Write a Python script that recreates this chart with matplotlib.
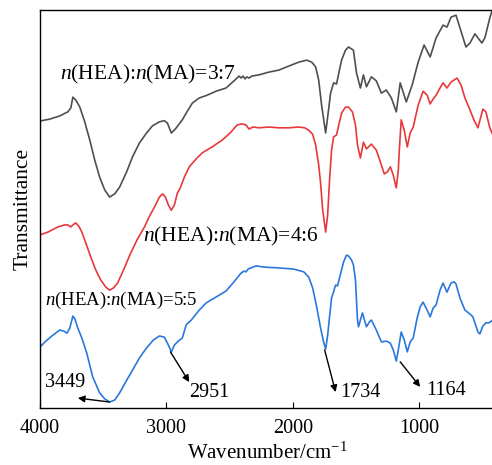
import numpy as np
import matplotlib
matplotlib.use("Agg")
import matplotlib.pyplot as plt

plt.rcParams['font.family'] = ['Liberation Serif', 'DejaVu Serif']
plt.rcParams['mathtext.fontset'] = 'custom'
plt.rcParams['mathtext.rm'] = 'Liberation Serif'
plt.rcParams['mathtext.it'] = 'Liberation Serif:italic'

# FTIR spectra, transmittance in arbitrary units (offset curves)
wn_37 = [4000, 3921, 3843, 3780, 3756, 3740, 3717, 3685, 3646, 3606, 3567, 3528, 3488, 3449,
         3409, 3370, 3315, 3268, 3213, 3157, 3110, 3055, 3016, 2992, 2961, 2929, 2898, 2874,
         2843, 2795, 2740, 2685, 2606, 2528, 2465, 2425, 2409, 2394, 2378, 2362, 2346, 2323,
         2268, 2189, 2110, 2032, 1953, 1890, 1850, 1819, 1795, 1772, 1740, 1717, 1701, 1677,
         1654, 1614, 1583, 1559, 1520, 1496, 1465, 1441, 1417, 1378, 1339, 1299, 1260, 1220,
         1181, 1150, 1102, 1055, 1008, 961, 913, 866, 811, 780, 748, 709, 677, 630, 598, 559,
         504, 480, 441, 417]
t_37 = [72.1, 72.6, 73.4, 74.4, 75.4, 78.1, 77.4, 75.6, 71.9, 67.3, 62.3, 58.0, 54.8, 53.0,
        53.8, 55.5, 59.3, 63.1, 66.6, 69.1, 70.9, 71.9, 72.2, 71.6, 69.1, 70.1, 71.4, 72.4,
        74.1, 76.6, 77.9, 78.5, 79.6, 80.4, 82.2, 83.4, 82.9, 83.4, 82.7, 83.2, 82.9, 83.4,
        83.7, 84.4, 84.9, 85.9, 86.9, 87.4, 86.9, 85.7, 82.4, 76.1, 69.1, 74.9, 79.1, 81.7,
        81.4, 87.4, 89.9, 90.7, 89.9, 84.2, 80.4, 83.7, 80.7, 83.2, 82.2, 79.1, 79.9, 77.9,
        74.4, 81.7, 76.9, 81.2, 86.9, 91.2, 88.2, 93.0, 96.2, 95.7, 98.2, 98.7, 95.5, 90.7,
        91.7, 94.0, 91.7, 93.0, 98.0, 100.5]

wn_46 = [4000, 3937, 3858, 3803, 3780, 3756, 3732, 3717, 3693, 3669, 3638, 3598, 3559, 3520,
         3480, 3449, 3417, 3386, 3339, 3283, 3228, 3173, 3134, 3094, 3055, 3031, 3008, 2984,
         2961, 2937, 2913, 2890, 2858, 2819, 2764, 2717, 2638, 2559, 2496, 2441, 2402, 2370,
         2346, 2315, 2268, 2189, 2110, 2032, 1953, 1906, 1874, 1843, 1819, 1795, 1780, 1764,
         1740, 1724, 1709, 1693, 1677, 1654, 1614, 1583, 1559, 1528, 1504, 1488, 1465, 1441,
         1417, 1378, 1339, 1307, 1276, 1252, 1228, 1205, 1181, 1165, 1157, 1142, 1118, 1094,
         1071, 1047, 1008, 969, 937, 913, 890, 866, 835, 811, 780, 748, 724, 701, 669, 638,
         598, 567, 535, 496, 472, 441, 417]
t_46 = [43.5, 44.2, 45.5, 46.0, 46.0, 45.5, 46.2, 46.5, 45.7, 44.2, 41.5, 37.9, 34.7, 32.2,
        30.4, 29.6, 30.2, 31.4, 34.7, 38.9, 42.5, 45.5, 48.2, 50.5, 53.0, 53.8, 53.0, 51.0,
        49.7, 51.0, 54.0, 55.3, 58.0, 60.6, 62.6, 64.1, 65.6, 67.3, 69.1, 71.1, 71.4, 71.1,
        70.1, 70.6, 70.4, 70.6, 70.4, 70.4, 70.6, 70.4, 69.8, 68.8, 66.1, 61.1, 56.5, 50.0,
        44.2, 48.5, 57.3, 64.8, 68.1, 68.6, 74.1, 75.6, 75.6, 74.4, 71.1, 66.1, 62.8, 66.8,
        65.1, 66.3, 64.8, 61.8, 58.8, 59.3, 60.6, 58.5, 55.3, 59.8, 64.8, 72.4, 69.8, 65.6,
        69.1, 70.6, 76.1, 79.6, 78.6, 76.4, 77.6, 78.6, 80.4, 81.7, 80.4, 81.9, 82.4, 82.9,
        81.2, 77.9, 74.9, 72.4, 70.4, 75.1, 74.4, 70.4, 68.6]

wn_55 = [4000, 3961, 3906, 3843, 3811, 3787, 3764, 3740, 3724, 3701, 3669, 3630, 3583, 3528,
         3488, 3449, 3409, 3370, 3323, 3268, 3213, 3157, 3102, 3055, 3016, 2984, 2961, 2937,
         2906, 2874, 2843, 2803, 2740, 2685, 2606, 2528, 2465, 2409, 2386, 2370, 2354, 2331,
         2291, 2228, 2110, 1992, 1913, 1874, 1843, 1811, 1780, 1756, 1740, 1724, 1709, 1693,
         1661, 1646, 1614, 1598, 1575, 1559, 1535, 1520, 1504, 1488, 1480, 1465, 1449, 1433,
         1417, 1394, 1378, 1339, 1299, 1260, 1228, 1205, 1181, 1165, 1142, 1118, 1094, 1071,
         1047, 1016, 992, 969, 937, 913, 890, 866, 835, 811, 780, 748, 724, 709, 677, 638,
         598, 575, 535, 520, 496, 472, 449, 417]
t_55 = [15.3, 16.6, 18.1, 19.6, 19.3, 18.8, 20.1, 23.1, 22.4, 20.1, 17.6, 13.8, 7.8, 3.8,
        2.3, 1.5, 2.0, 3.8, 6.5, 9.5, 12.6, 15.1, 17.1, 18.1, 17.8, 15.8, 14.1, 15.8,
        16.8, 17.6, 20.9, 22.1, 24.6, 26.4, 27.9, 29.4, 31.7, 33.9, 34.4, 34.2, 34.9, 35.2,
        35.7, 35.4, 35.2, 34.9, 34.2, 32.9, 30.2, 25.4, 20.1, 16.6, 14.8, 18.3, 22.9, 27.6,
        30.9, 30.7, 34.7, 36.7, 38.4, 38.2, 37.2, 35.9, 32.2, 22.1, 20.4, 22.1, 23.9, 22.1,
        20.4, 21.6, 22.1, 19.6, 16.6, 16.8, 16.3, 14.6, 11.8, 14.6, 19.1, 17.1, 14.1, 16.6,
        17.6, 22.6, 25.4, 26.6, 24.6, 22.9, 25.1, 25.9, 29.6, 31.4, 29.1, 31.4, 31.7, 31.2,
        27.6, 24.6, 23.6, 22.9, 19.1, 18.6, 20.6, 21.4, 21.4, 22.1]

labels = ['$n$(HEA):$n$(MA)=3:7', '$n$(HEA):$n$(MA)=4:6', '$n$(HEA):$n$(MA)=5:5']
label_pos = [(3843, 83.9), (3189, 43.2), (3961, 27.1)]
label_size = [15.5, 15.5, 13.5]
colors = ['#4f4f4f', '#e8383c', '#2a78dc']

# peak annotations: label, arrow tail (on curve), arrow head, text position
peaks = ['3449', '2951', '1734', '1164']
peak_tail = [(3449, 1.5), (2968, 14.1), (1748, 14.6), (1150, 11.6)]
peak_head = [(3701, 2.5), (2819, 6.5), (1661, 4.0), (992, 5.3)]
peak_text = [(3803, 6.3), (2661, 3.8), (1465, 3.8), (787, 4.5)]

fig = plt.figure(figsize=(4.92, 4.65), dpi=100)
ax = fig.add_axes([40 / 492, 57 / 465, 455 / 492, 398 / 465])

for wn, t, c in zip([wn_37, wn_46, wn_55], [t_37, t_46, t_55], colors):
    ax.plot(wn, t, color=c, linewidth=1.2)

for lab, pos, fs in zip(labels, label_pos, label_size):
    ax.text(pos[0], pos[1], lab, fontsize=fs, va='center', ha='left')

for lab, tail, head, pos in zip(peaks, peak_tail, peak_head, peak_text):
    ax.annotate('', xy=head, xytext=tail,
                arrowprops=dict(arrowstyle='-|>', color='black', lw=1.0,
                                mutation_scale=10, shrinkA=0, shrinkB=0))
    ax.text(pos[0], pos[1], lab, fontsize=14.5, ha='center', va='center')

ax.set_xlim(4000, 400)
ax.set_ylim(0, 100)
ax.set_xticks([4000, 3000, 2000, 1000])
ax.set_yticks([])
ax.tick_params(axis='x', direction='in', length=4, labelsize=14.5, pad=8)
for s in ax.spines.values():
    s.set_linewidth(1.0)
ax.set_xlabel('Wavenumber/cm$^{-1}$', fontsize=15, labelpad=3)
ax.set_ylabel('Transmittance', fontsize=15.5, labelpad=5)

fig.savefig('out.png', dpi=100)
